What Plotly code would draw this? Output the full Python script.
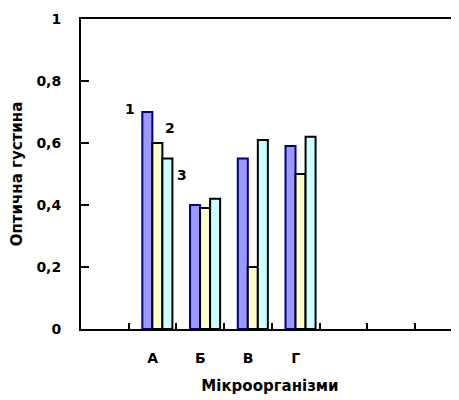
import plotly.graph_objects as go

categories = ["А", "Б", "В", "Г"]
all_categories = [" ", "А", "Б", "В", "Г", "  ", "   ", "    "]
series1 = [0.70, 0.40, 0.55, 0.59]
series2 = [0.60, 0.39, 0.20, 0.50]
series3 = [0.55, 0.42, 0.61, 0.62]
y_ticks = [0, 0.2, 0.4, 0.6, 0.8, 1]
y_tick_labels = ["0", "0,2", "0,4", "0,6", "0,8", "1"]

FONT = "DejaVu Sans, Liberation Sans, Arial, sans-serif"

fig = go.Figure()
styles = [
    (series1, "#9999FF", "#000080", -0.215),
    (series2, "#FFFFCC", "#000000", -0.005),
    (series3, "#CCFFFF", "#000000", 0.205),
]
for vals, fill, edge, off in styles:
    fig.add_trace(go.Bar(
        x=categories, y=vals, width=0.21, offset=off,
        marker=dict(color=fill, line=dict(color=edge, width=2)),
        showlegend=False, hoverinfo="skip",
    ))

labels = [("1", 0.53, 0.71), ("2", 1.365, 0.648), ("3", 1.616, 0.497)]
for t, xx, yy in labels:
    fig.add_annotation(x=xx, y=yy, xref="x", yref="y", text="<b>" + t + "</b>",
                       showarrow=False, font=dict(family=FONT, size=14, color="black"))

# page body has an 8px margin: figure placed at (8, 8)
fig.update_layout(
    width=451, height=392,
    margin=dict(l=73, r=0, t=11, b=71),
    paper_bgcolor="white", plot_bgcolor="white",
    barmode="overlay",
    font=dict(family=FONT, size=14, color="black"),
)
fig.update_xaxes(
    type="category", categoryorder="array", categoryarray=all_categories,
    range=[-0.5, 7.42], tickson="boundaries", automargin=False,
    ticks="inside", ticklen=6, tickwidth=2, tickcolor="black",
    showline=True, linecolor="black", linewidth=2, mirror=True,
    showgrid=False, zeroline=False,
    tickfont=dict(family=FONT, size=14, color="black", weight="bold"),
    ticklabelstandoff=15,
    title=dict(text="<b>Мікроорганізми</b>", font=dict(family=FONT, size=15), standoff=16),
)
fig.update_yaxes(
    range=[0, 1], tickvals=y_ticks, ticktext=y_tick_labels, automargin=False,
    ticks="inside", ticklen=8, tickwidth=2, tickcolor="black",
    showline=True, linecolor="black", linewidth=2, mirror=False,
    showgrid=False, zeroline=False,
    tickfont=dict(family=FONT, size=14, color="black", weight="bold"),
    ticklabelstandoff=15,
    title=dict(text="<b>Оптична густина</b>", font=dict(family=FONT, size=15), standoff=10),
)

fig.write_html("out.html")
